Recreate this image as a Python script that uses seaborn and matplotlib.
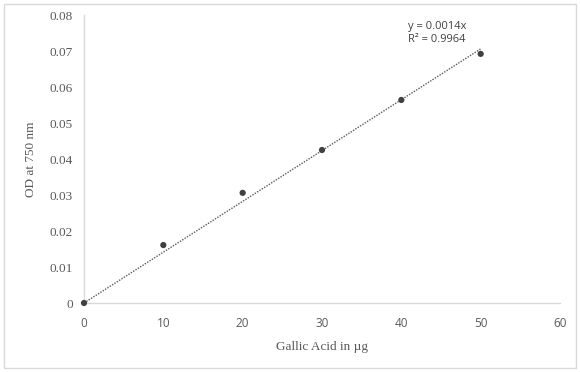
import numpy as np
import pandas as pd
import matplotlib
matplotlib.use("Agg")
import matplotlib.pyplot as plt
import seaborn as sns
from matplotlib.patches import FancyBboxPatch

gallic_ug = [0, 10, 20, 30, 40, 50]
od_750 = [0.0, 0.0161, 0.0306, 0.0425, 0.0564, 0.0692]
x_ticks = [0, 10, 20, 30, 40, 50, 60]
y_ticks = [0, 0.01, 0.02, 0.03, 0.04, 0.05, 0.06, 0.07, 0.08]
y_tick_labels = ["0", "0.01", "0.02", "0.03", "0.04", "0.05", "0.06", "0.07", "0.08"]
equation_text = "y = 0.0014x\nR² = 0.9964"

sns.set_theme(style="white")
plt.rcParams['font.family'] = ['Liberation Serif', 'DejaVu Serif']

df = pd.DataFrame({"x": gallic_ug, "y": od_750})
xa = np.array(gallic_ug, float)
ya = np.array(od_750, float)
slope = (xa * ya).sum() / (xa * xa).sum()
fit = pd.DataFrame({"x": [0, 50], "y": [0, slope * 50]})

fig = plt.figure(figsize=(5.8, 3.72), dpi=100)
ax = fig.add_axes([84/580, 1-303/372, (560-84)/580, (303-15)/372])

fig.patches.append(FancyBboxPatch((4/580, 4/372), 572/580, 364/372,
                                  boxstyle="square,pad=0", transform=fig.transFigure,
                                  facecolor="none", edgecolor="#d9d9d9", linewidth=1))

sns.lineplot(data=fit, x="x", y="y", ax=ax, color="#595959", linestyle=(0, (1, 1)), linewidth=1.0)
sns.scatterplot(data=df, x="x", y="y", ax=ax, color="#404040", s=20, edgecolor="none", zorder=5, clip_on=False)

ax.set_xlim(0, 60)
ax.set_ylim(0, 0.08)
ax.set_xticks(x_ticks)
ax.set_xticklabels([str(t) for t in x_ticks], family=['Open Sans', 'DejaVu Sans'], fontsize=8.5, color="#595959")
ax.set_yticks(y_ticks)
ax.set_yticklabels(y_tick_labels, fontsize=9.5, color="#595959")
ax.tick_params(axis="x", length=0, pad=10)
ax.tick_params(axis="y", length=0, pad=8)

for s in ["top", "right"]:
    ax.spines[s].set_visible(False)
for s in ["left", "bottom"]:
    ax.spines[s].set_color("#d9d9d9")
    ax.spines[s].set_linewidth(1)

ax.set_xlabel("Gallic Acid in µg", fontsize=9.5, color="#595959", labelpad=8)
ax.set_ylabel("OD at 750 nm", fontsize=9.5, color="#595959", labelpad=9)
ax.text(408/580, 1-33/372, equation_text, transform=fig.transFigure,
        family=['Open Sans', 'DejaVu Sans'], fontsize=8, color="#404040",
        va="center", ha="left", linespacing=1.3)

fig.savefig("out.png", dpi=100)
